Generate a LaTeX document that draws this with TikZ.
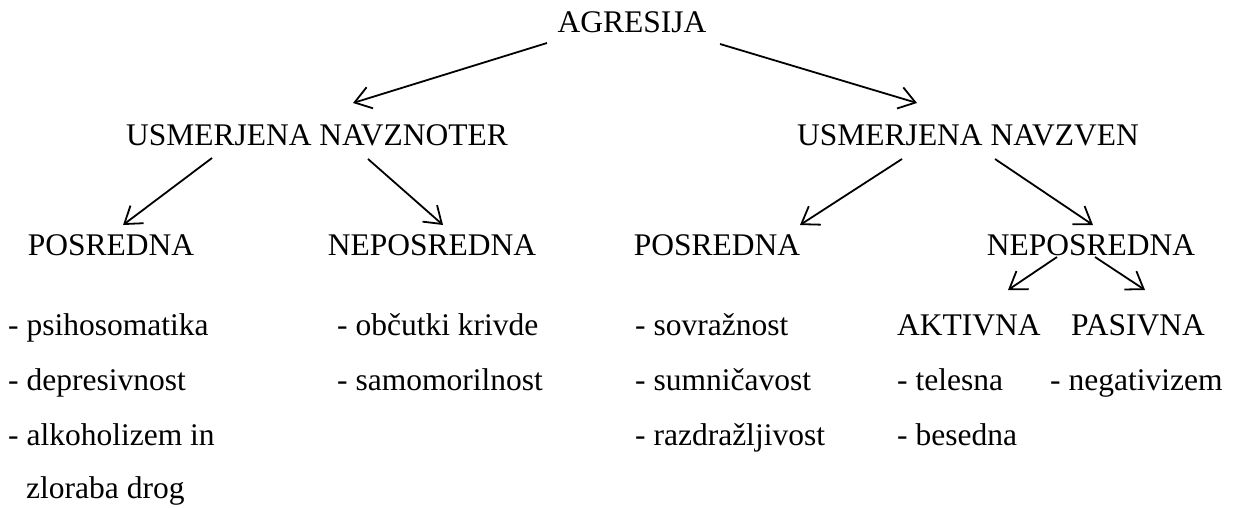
\documentclass[tikz,border=0pt]{standalone}
\usepackage{fontspec}
\setmainfont{Liberation Serif}
\usetikzlibrary{arrows.meta}

\begin{document}
\begin{tikzpicture}[x=1pt, y=-1pt,
        lbl/.style={inner sep=0, anchor=base, font=\fontsize{31.5}{36}\selectfont},
        item/.style={inner sep=0, anchor=base west, font=\fontsize{31.5}{36}\selectfont},
        arr/.style={line width=1.8pt, -{Straight Barb[length=16pt, width=22pt, line width=1.8pt]}}]
    \useasboundingbox (0,0) rectangle (1241,508);

    \node[lbl] (agr) at (632, 33) {AGRESIJA};
    \node[lbl] (notr) at (317, 145) {USMERJENA NAVZNOTER};
    \node[lbl] (ven) at (968, 145) {USMERJENA NAVZVEN};

    \node[lbl] (posl) at (111, 255) {POSREDNA};
    \node[lbl] (nepl) at (432, 255) {NEPOSREDNA};
    \node[lbl] (posr) at (717, 255) {POSREDNA};
    \node[lbl] (nepr) at (1091, 255) {NEPOSREDNA};

    \node[item] (akt) at (897, 335) {AKTIVNA};
    \node[item] (pas) at (1071, 335) {PASIVNA};

    % levi stolpci
    \node[item] (psi) at (8, 335) {- psihosomatika};
    \node[item] (dep) at (8, 390) {- depresivnost};
    \node[item] (alk) at (8, 445) {- alkoholizem in};
    \node[item] (zlo) at (26, 498) {zloraba drog};
    \node[item] (obc) at (337, 335) {- občutki krivde};
    \node[item] (sam) at (337, 390) {- samomorilnost};

    % desni stolpci
    \node[item] (sov) at (635, 335) {- sovražnost};
    \node[item] (sum) at (635, 390) {- sumničavost};
    \node[item] (raz) at (635, 445) {- razdražljivost};
    \node[item] (tel) at (897, 390) {- telesna};
    \node[item] (bes) at (897, 445) {- besedna};
    \node[item] (neg) at (1050, 390) {- negativizem};

    \draw[arr] ([xshift=-85pt, yshift=-10pt]agr.base) -- ([xshift=36pt, yshift=42pt]notr.base);
    \draw[arr] ([xshift=88pt, yshift=-11pt]agr.base) -- ([xshift=-51pt, yshift=42pt]ven.base);

    \draw[arr] ([xshift=-105pt, yshift=-13pt]notr.base) -- ([xshift=12pt, yshift=30pt]posl.base);
    \draw[arr] ([xshift=51pt, yshift=-14pt]notr.base) -- ([xshift=11pt, yshift=30pt]nepl.base);
    \draw[arr] ([xshift=-66pt, yshift=-14pt]ven.base) -- ([xshift=83pt, yshift=30pt]posr.base);
    \draw[arr] ([xshift=27pt, yshift=-14pt]ven.base) -- ([xshift=2pt, yshift=30pt]nepr.base);

    \draw[arr] ([xshift=-34pt, yshift=-2pt]nepr.base) -- ([xshift=111pt, yshift=45pt]akt.base west);
    \draw[arr] ([xshift=4pt, yshift=-2pt]nepr.base) -- ([xshift=74pt, yshift=45pt]pas.base west);
\end{tikzpicture}
\end{document}
